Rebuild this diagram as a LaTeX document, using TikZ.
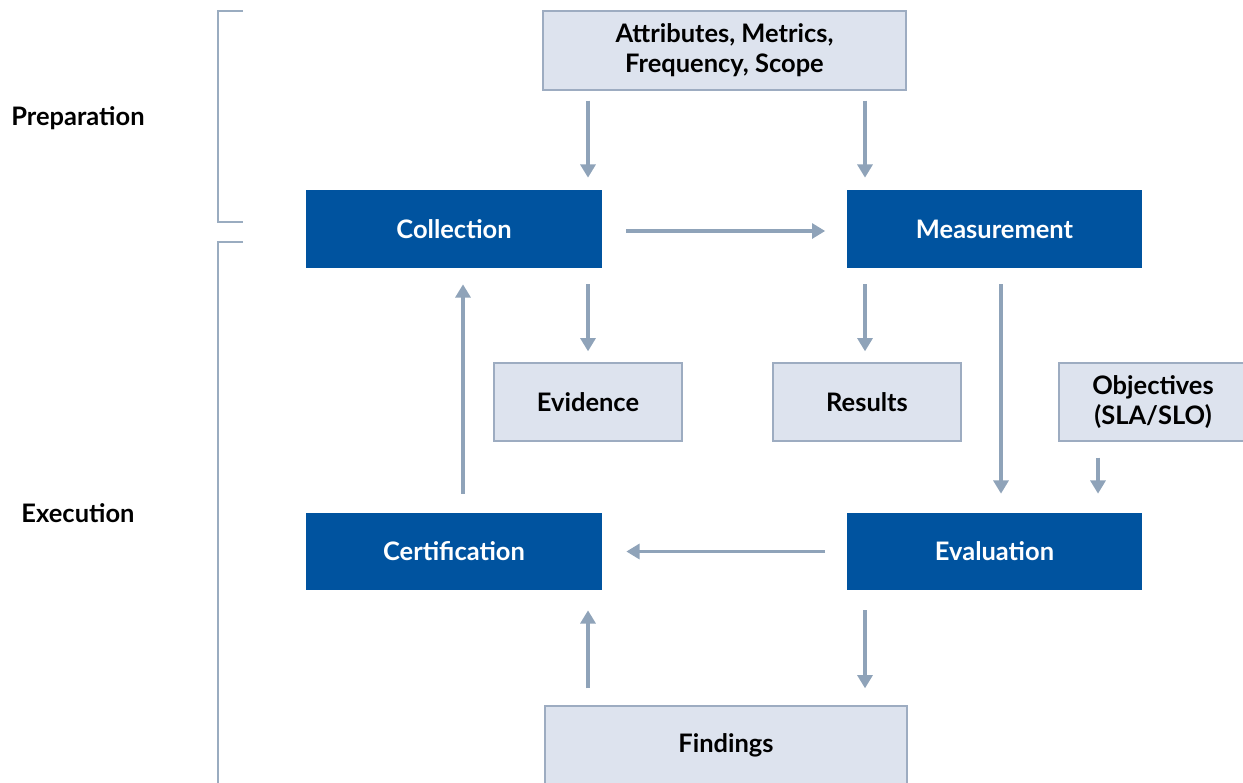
\documentclass[tikz,border=0pt]{standalone}
\usepackage{fontspec}
\setmainfont{Lato}
\usetikzlibrary{arrows.meta,positioning}

\definecolor{darkblue}{HTML}{00539F}
\definecolor{paleblue}{HTML}{DDE3EE}
\definecolor{edgegray}{HTML}{9DACC1}
\definecolor{arrowgray}{HTML}{8FA3B9}

\begin{document}
\begin{tikzpicture}[
  x=0.02cm, y=-0.02cm,
  stage/.style={fill=darkblue, text=white, minimum width=5.92cm, minimum height=1.56cm, align=center, font=\fontsize{14.5}{17}\selectfont\bfseries},
  item/.style={draw=edgegray, line width=0.8pt, fill=paleblue, minimum width=3.76cm, minimum height=1.56cm, align=center, font=\fontsize{14.5}{17}\selectfont\bfseries},
  phase/.style={font=\fontsize{14.5}{17}\selectfont\bfseries},
  arrow/.style={-{Triangle[width=8.5pt,length=7.5pt]}, line width=1.8pt, color=arrowgray},
  bracket/.style={line width=1.6pt, color=arrowgray!90}
]
  \useasboundingbox (0,0) rectangle (1243,782);

  % inputs and outputs
  \node[item, minimum width=7.26cm, minimum height=1.58cm] (attr) at (724.5,50.5) {Attributes, Metrics,\\Frequency, Scope};
  \node[item] (evid) at (588,402) {Evidence};
  \node[item] (res) at (867,402) {Results};
  \node[item] (obj) at (1153,402) {Objectives\\(SLA/SLO)};
  \node[item, minimum width=7.24cm] (find) at (726,745) {Findings};

  % process steps
  \node[stage] (coll) at (454,229) {Collection};
  \node[stage] (meas) at (994.5,229) {Measurement};
  \node[stage, minimum height=1.54cm] (cert) at (454,551.5) {Certification};
  \node[stage, minimum height=1.54cm] (eval) at (994.5,551.5) {Evaluation};

  % phases
  \node[phase] (prep) at (78,118) {Preparation};
  \node[phase] (exec) at (78,513) {Execution};
  \draw[bracket] (243,11) -- (218,11) -- (218,222) -- (243,222);
  \draw[bracket] (243,242) -- (218,242) -- (218,790);

  \draw[arrow, shorten <=0.2cm, shorten >=0.24cm] (attr.south -| evid.north) -- (coll.north -| evid.north);
  \draw[arrow, shorten <=0.2cm, shorten >=0.24cm] (attr.south -| 865,0) -- (meas.north -| 865,0);
  \draw[arrow, shorten <=0.48cm, shorten >=0.42cm] (coll.east) ++(0,2) -- (meas.west |- 0,231);
  \draw[arrow, shorten <=0.32cm, shorten >=0.22cm] (coll.south -| evid.north) -- (evid.north);
  \draw[arrow, shorten <=0.32cm, shorten >=0.22cm] (meas.south -| 865,0) -- (res.north -| 865,0);
  \draw[arrow, shorten <=0.32cm, shorten >=0.38cm] (meas.south -| 1001,0) -- (eval.north -| 1001,0);
  \draw[arrow, shorten <=0.32cm, shorten >=0.38cm] (obj.south -| 1098,0) -- (eval.north -| 1098,0);
  \draw[arrow, shorten <=0.42cm, shorten >=0.48cm] (eval.west) -- (cert.east);
  \draw[arrow, shorten <=0.38cm, shorten >=0.32cm] (cert.north -| 463,0) -- (coll.south -| 463,0);
  \draw[arrow, shorten <=0.34cm, shorten >=0.4cm] (find.north -| evid.north) -- (cert.south -| evid.north);
  \draw[arrow, shorten <=0.4cm, shorten >=0.34cm] (eval.south -| 865,0) -- (find.north -| 865,0);
\end{tikzpicture}
\end{document}
